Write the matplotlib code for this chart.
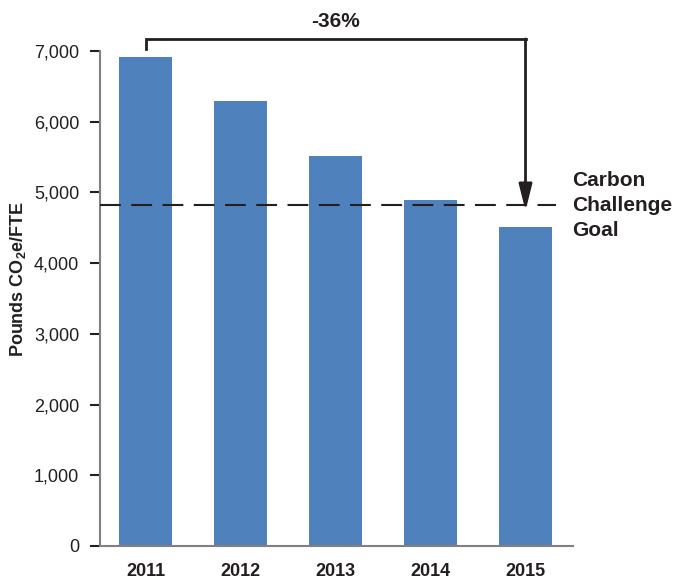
#!/usr/bin/env python3

import matplotlib
matplotlib.use('Agg')
import matplotlib.pyplot as plt

# Data
years = ['2011', '2012', '2013', '2014', '2015']
pounds = [6920, 6300, 5510, 4890, 4510]
goal = 4820
change_label = '-36%'
goal_label = 'Carbon\nChallenge\nGoal'
y_ticks = [0, 1000, 2000, 3000, 4000, 5000, 6000, 7000]

dark = '#231f20'
blue = '#4f81bd'
gray = '#808080'

plt.rcParams['font.family'] = ['Liberation Sans', 'DejaVu Sans']
plt.rcParams['mathtext.fontset'] = 'custom'
plt.rcParams['mathtext.rm'] = 'Liberation Sans:bold'
plt.rcParams['mathtext.it'] = 'Liberation Sans:bold'
plt.rcParams['mathtext.bf'] = 'Liberation Sans:bold'

fig = plt.figure(figsize=(6.75, 5.8), dpi=100)
ax = fig.add_axes([100 / 675, 1 - 546 / 580, 473 / 675, 495 / 580])

x = list(range(len(years)))
ax.bar(x, pounds, width=0.56, color=blue, zorder=2)

# goal line
ax.plot([-0.48, 4.32], [goal, goal], color=dark, lw=1.5, dashes=(10, 5), zorder=3, clip_on=False)

# bracket with arrow from first to last year
top = 7170
ax.plot([0, 0, 4], [7030, top, top], color=dark, lw=2, clip_on=False, solid_joinstyle='miter')
ax.annotate('', xy=(4, 4740), xytext=(4, top),
            arrowprops=dict(arrowstyle='-|>,head_length=1.6,head_width=0.4',
                            color=dark, lw=2, shrinkA=0, shrinkB=0),
            annotation_clip=False)
ax.text(2, 7420, change_label, ha='center', va='center', fontsize=15,
        fontweight='bold', color=dark)
ax.text(4.49, goal, goal_label, ha='left', va='center', fontsize=15,
        fontweight='bold', color=dark, linespacing=1.4)

ax.set_xlim(-0.48, 4.5)
ax.set_ylim(0, 7000)
ax.set_yticks(y_ticks)
ax.set_yticklabels([f'{v:,}' for v in y_ticks])
ax.set_xticks(x)
ax.set_xticklabels(years, fontweight='bold')

ax.tick_params(axis='y', length=7, width=1.5, color=dark, pad=8, labelsize=13, labelcolor=dark)
ax.tick_params(axis='x', length=0, pad=12, labelsize=13, labelcolor=dark)

for side in ['top', 'right']:
    ax.spines[side].set_visible(False)
for side in ['left', 'bottom']:
    ax.spines[side].set_color(gray)
    ax.spines[side].set_linewidth(1.5)

ax.set_ylabel('Pounds CO$_2$e/FTE', fontsize=13, fontweight='bold', color=dark)
ax.yaxis.set_label_coords(-72 / 473, 0.54)

plt.savefig('out.png', dpi=100)
